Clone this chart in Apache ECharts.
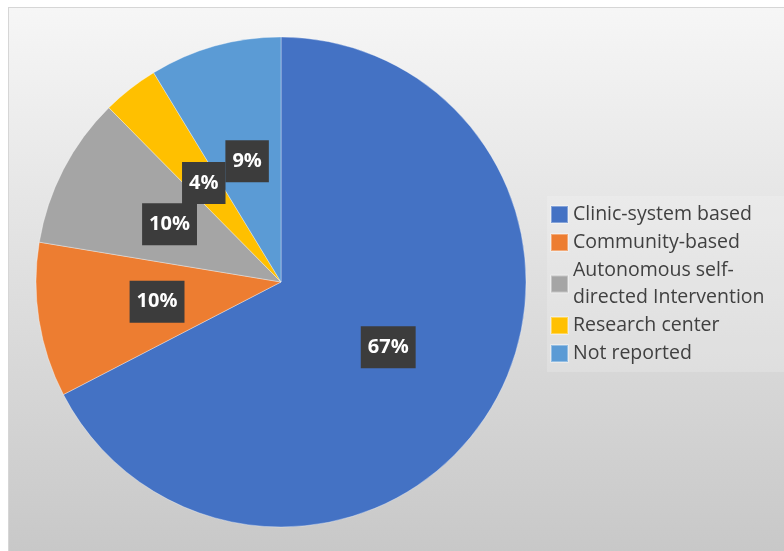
<!DOCTYPE html>
<html>
<head>
<meta charset="utf-8">
<script src="https://cdn.jsdelivr.net/npm/echarts@6/dist/echarts.min.js"></script>
<style>
  html, body { margin: 0; padding: 0; background: #ffffff; width: 784px; height: 551px; overflow: hidden; }
  #chart { position: absolute; left: 8px; top: 7px; width: 776px; height: 544px;
           border-left: 1px solid #d6d6d6; border-top: 1px solid #d6d6d6; }
</style>
</head>
<body>
<div id="chart"></div>
<script>
const categories = ['Clinic-system based', 'Community-based', 'Autonomous self-directed Intervention', 'Research center', 'Not reported'];
const values = [67.4, 10.2, 10.0, 3.7, 8.7];
const colors = ['#4472C4', '#ED7D31', '#A5A5A5', '#FFC000', '#5B9BD5'];

const chart = echarts.init(document.getElementById('chart'));
chart.setOption({
  animation: false,
  backgroundColor: new echarts.graphic.LinearGradient(0, 0, 0, 1, [
    { offset: 0, color: '#f6f6f6' },
    { offset: 1, color: '#c8c8c8' }
  ]),
  color: colors,
  legend: {
    orient: 'vertical',
    left: 538,
    top: 188,
    padding: [5, 30, 5, 3],
    backgroundColor: 'rgba(255,255,255,0.18)',
    itemWidth: 17,
    itemHeight: 17,
    itemGap: 1,
    icon: 'rect',
    formatter: function (name) { return name.replace('self-directed', 'self-\ndirected'); },
    textStyle: { fontFamily: 'Open Sans', fontSize: 19.5, color: '#404040', lineHeight: 27 },
    data: categories
  },
  series: [{
    type: 'pie',
    center: [272, 274],
    radius: [0, 245],
    startAngle: 90,
    clockwise: true,
    avoidLabelOverlap: false,
    labelLayout: { hideOverlap: false },
    label: {
      show: true,
      position: 'inside',
      formatter: function (p) { return Math.round(p.value) + '%'; },
      color: '#ffffff',
      fontFamily: 'Open Sans',
      fontWeight: 'bold',
      fontSize: 20,
      lineHeight: 22,
      backgroundColor: '#3c3c3c',
      padding: [10, 7]
    },
    labelLine: { show: false },
    itemStyle: { borderColor: 'rgba(255,255,255,0.35)', borderWidth: 1 },
    emphasis: { disabled: true },
    data: categories.map((c, i) => ({ name: c, value: values[i] }))
  }]
});
</script>
</body>
</html>
